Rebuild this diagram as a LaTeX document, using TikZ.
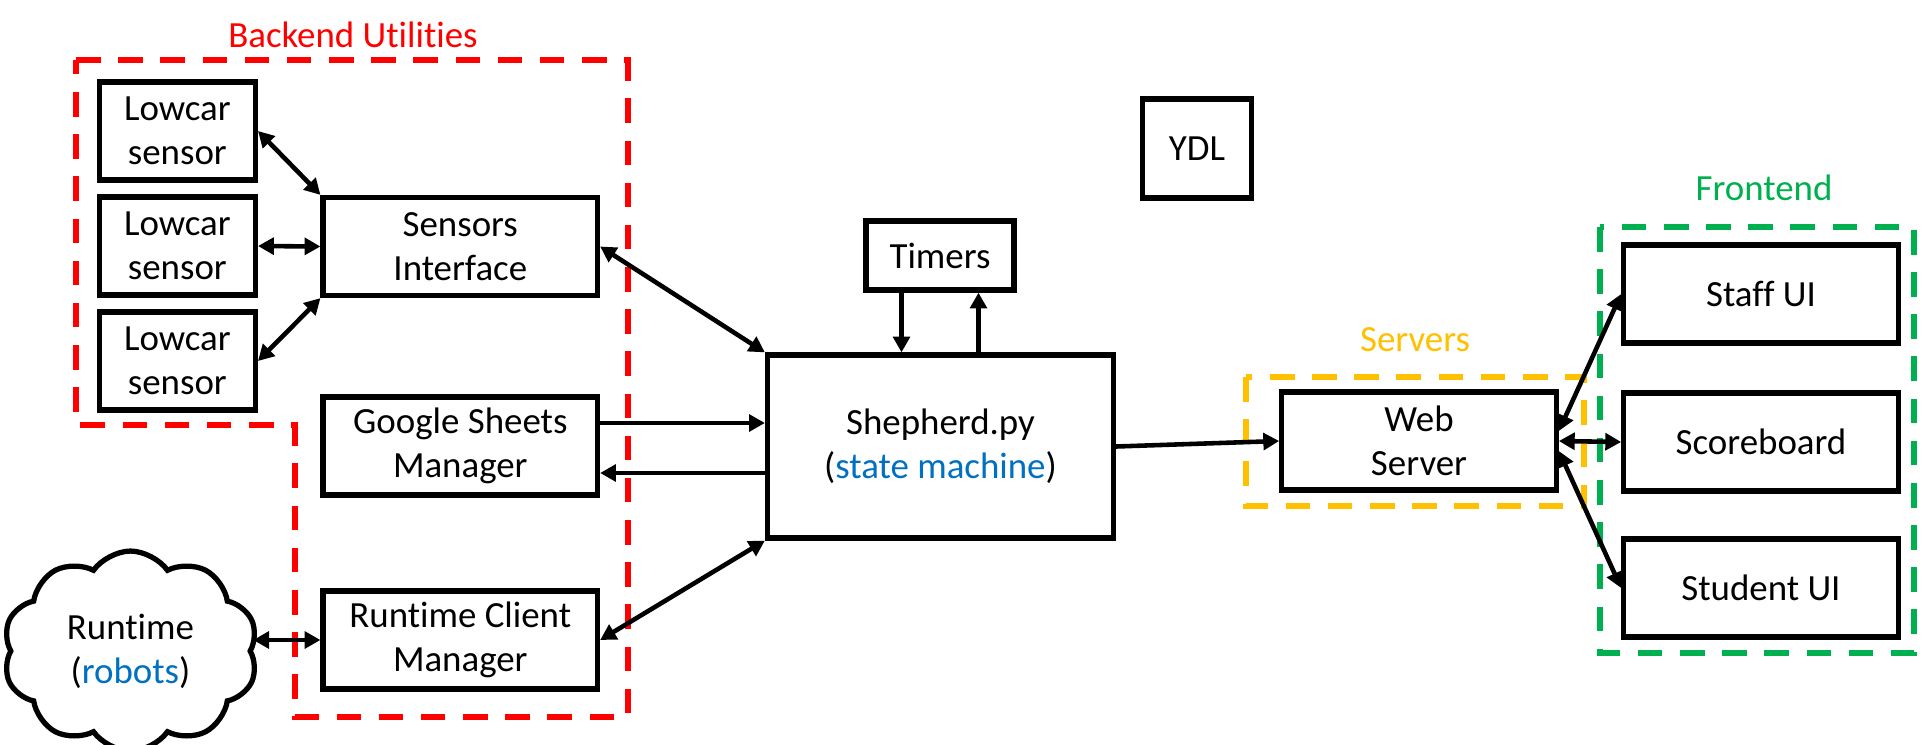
\documentclass[tikz,border=0pt]{standalone}
\usepackage{fontspec}
\setmainfont{Carlito}[Ligatures=NoCommon]
\usepackage{tikz}
\usetikzlibrary{shapes.symbols}
\usetikzlibrary{arrows.meta}
\definecolor{grpred}{RGB}{255,0,0}
\definecolor{grpyellow}{RGB}{255,192,0}
\definecolor{grpgreen}{RGB}{0,176,80}
\definecolor{txtblue}{RGB}{0,112,192}
\tikzset{
  box/.style={draw,line width=3pt,align=center,inner sep=0pt,font=\fontsize{21}{25}\selectfont},
  group/.style={line width=3pt,dash pattern=on 14pt off 10pt},
  grouplabel/.style={font=\fontsize{21}{25}\selectfont},
  link/.style={line width=2.6pt},
  >={Triangle[length=9pt,width=9.5pt]}
}

\begin{document}
\begin{tikzpicture}[x=0.02cm,y=-0.02cm]
  \useasboundingbox (0,0) rectangle (1931,744);
  \draw[group,grpred] (76,60) -- (628,60) -- (628,717) -- (295,717) -- (295,425) -- (76,425) -- cycle;
  \draw[group,grpyellow] (1246,377) rectangle (1584,506);
  \draw[group,grpgreen] (1600,227) rectangle (1914,653);
  \node[grouplabel,grpred] (backend) at (353,35) {Backend Utilities};
  \node[grouplabel,grpyellow] (servers) at (1415,340) {Servers};
  \node[grouplabel,grpgreen] (frontend) at (1764,188) {Frontend};

  \foreach \i in {1,2,3}{%
    \pgfmathsetmacro{\ly}{131+115*(\i-1)}
    \node[box,minimum width=3.12cm,minimum height=1.96cm] (L-\i) at (177.4,\ly) {Lowcar\\sensor};
  }
  \node[box,minimum width=5.49cm,minimum height=1.96cm] (SI) at (460.3,246.5) {Sensors\\Interface};
  \node[box,minimum width=5.49cm,minimum height=1.96cm] (GSM) at (460.3,446) {Google Sheets\\Manager};
  \node[box,minimum width=5.49cm,minimum height=1.96cm] (RCM) at (460.3,640) {Runtime Client\\Manager};
  \node[box,cloud,cloud puffs=10,cloud puff arc=110,minimum width=5.1cm,minimum height=3.3cm] (cloud) at (130.5,651) {Runtime\\(\textcolor{txtblue}{robots})};
  \node[box,minimum width=2.96cm,minimum height=1.38cm] (timers) at (940,255.5) {Timers};
  \node[box,minimum width=2.19cm,minimum height=1.98cm] (ydl) at (1197,148.5) {YDL};
  \node[box,minimum width=6.92cm,minimum height=3.66cm] (shep) at (940.5,446.5) {Shepherd.py\\(\textcolor{txtblue}{state machine})};
  \node[box,minimum width=5.49cm,minimum height=1.96cm] (WS) at (1419,441) {Web\\Server};
  \foreach \y/\t [count=\i] in {294/Staff UI,442/Scoreboard,588/Student UI}{%
    \node[box,minimum width=5.49cm,minimum height=1.96cm] (F-\i) at (1761,\y) {\t};
  }

  \path (L-1.east) edge[link,<->] (SI.north west);
  \path (L-2.east) edge[link,<->] (SI.west);
  \path (L-3.east) edge[link,<->] (SI.south west);
  \path (SI.east) edge[link,<->] (shep.north west);
  \coordinate (g1) at ([yshift=0.46cm]GSM.east);
  \coordinate (g2) at ([yshift=-0.54cm]GSM.east);
  \path (g1) edge[link,->] (g1 -| shep.west);
  \path (g2 -| shep.west) edge[link,->] (g2);
  \path (shep.south west) edge[link,<->] (RCM.east);
  \path (RCM.west -| cloud.east) edge[link,<->] (RCM.west);
  \path ([xshift=-0.77cm]timers.south) edge[link,->] ([xshift=-0.77cm]timers.south |- shep.north);
  \path ([xshift=0.77cm]timers.south |- shep.north) edge[link,->] ([xshift=0.77cm]timers.south);
  \path (shep.east) edge[link,->] (WS.west);
  \path ([yshift=0.2cm]WS.east) edge[link,<->] (F-1.west);
  \path (WS.east) edge[link,<->] (F-2.west);
  \path ([yshift=-0.2cm]WS.east) edge[link,<->] (F-3.west);
\end{tikzpicture}
\end{document}
